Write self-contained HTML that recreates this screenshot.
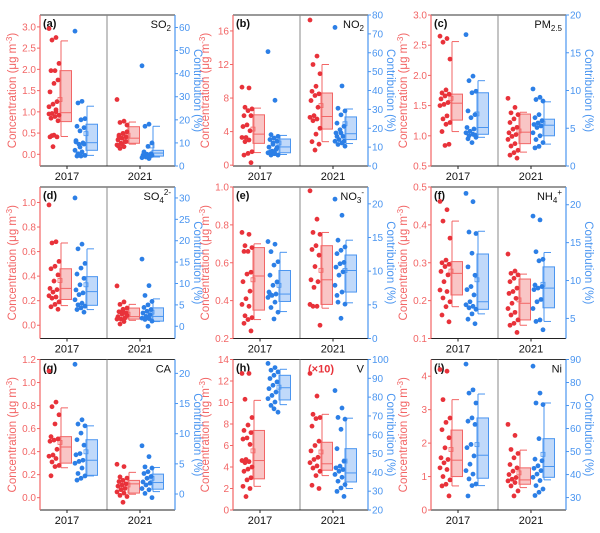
<!DOCTYPE html>
<html><head><meta charset="utf-8">
<style>
body{margin:0;background:#fff;}
svg{display:block;font-family:"Liberation Sans",Arial,sans-serif;}
</style></head>
<body>
<svg id="chart" width="600" height="533" viewBox="0 0 600 533" xmlns="http://www.w3.org/2000/svg"></svg>
<script>
// ---------- DATA ----------
const panelIds = ["a","b","c","d","e","f","g","h","i"];
const speciesNames = ["SO2","NO2","PM2.5","SO42-","NO3-","NH4+","CA","V","Ni"];
const categories = ["2017","2021"];
const leftDomains = [[-0.275,3.28],[-0.1,17.9],[0.5,3.0],[-0.108,1.126],[0.2,1.0],[0.1,0.5],[-0.107,1.2],[0,14],[0,4.5]];
const rightDomains = [[0,65.4],[0,80],[0,20],[-2.86,32.56],[0,22.5],[2.35,22.34],[-2.65,22.3],[20,100],[24.6,90]];
const leftTicks = [
 ["0.0","0.5","1.0","1.5","2.0","2.5","3.0"],["0","4","8","12","16"],["0.5","1.0","1.5","2.0","2.5","3.0"],
 ["0.0","0.2","0.4","0.6","0.8","1.0"],["0.2","0.4","0.6","0.8","1.0"],["0.1","0.2","0.3","0.4","0.5"],
 ["0.0","0.2","0.4","0.6","0.8","1.0","1.2"],["0","2","4","6","8","10","12","14"],["0","1","2","3","4"]];
const rightTicks = [
 ["0","10","20","30","40","50","60"],["0","10","20","30","40","50","60","70","80"],["0","5","10","15","20"],
 ["0","5","10","15","20","25","30"],["0","5","10","15","20"],["5","10","15","20"],
 ["0","5","10","15","20"],["20","30","40","50","60","70","80","90","100"],["30","40","50","60","70","80","90"]];
// concentration (red) points
const red2017 = [
 [2.96,2.75,2.69,2.14,1.97,1.97,1.75,1.67,1.47,1.24,1.18,1.12,1.0,0.96,0.92,0.89,0.85,0.79,0.45,0.41,0.41,0.18,0.95,1.05,0.44],
 [9.3,9.2,6.9,6.7,6.5,5.9,5.9,4.8,4.6,4.1,3.3,3.3,3.0,2.8,1.6,1.4,1.2,0.3],
 [2.65,2.61,2.55,2.27,1.76,1.71,1.69,1.66,1.61,1.55,1.52,1.5,1.33,1.28,1.22,1.19,1.07,0.86,0.84],
 [0.98,0.68,0.67,0.52,0.48,0.46,0.41,0.36,0.3,0.29,0.27,0.24,0.23,0.22,0.19,0.17,0.15,0.13],
 [0.76,0.75,0.69,0.68,0.66,0.66,0.55,0.54,0.5,0.45,0.41,0.38,0.37,0.32,0.31,0.3,0.28,0.24],
 [0.462,0.44,0.41,0.365,0.307,0.3,0.296,0.29,0.277,0.268,0.25,0.228,0.224,0.207,0.197,0.184,0.162,0.144],
 [1.1,0.83,0.79,0.72,0.64,0.53,0.51,0.5,0.49,0.42,0.37,0.36,0.34,0.31,0.28,0.27,0.19],
 [12.7,12.7,10.3,8.6,7.9,7.4,7.2,6.7,6.6,6.1,4.7,4.6,4.5,4.4,4.0,3.8,3.6,3.0,2.8,2.2,2.0,1.25],
 [4.2,4.15,3.3,2.75,2.62,2.4,2.16,1.86,1.56,1.51,1.41,1.26,1.21,1.0,0.9,0.77,0.72,0.42]];
const red2021 = [
 [1.29,0.78,0.75,0.69,0.49,0.45,0.41,0.38,0.34,0.3,0.26,0.22,0.18,0.14,0.53,0.49,0.41,0.3,0.24,0.2],
 [17.3,13,12,10.9,9.4,8.8,8.5,8.3,7.7,6.9,5.9,5.7,5.5,5.3,4.4,3.7,2.8,2.5,1.8],
 [1.62,1.47,1.38,1.35,1.28,1.22,1.14,1.11,1.05,1.02,0.99,0.94,0.87,0.83,0.76,0.72,0.68,0.63],
 [0.32,0.19,0.17,0.14,0.13,0.11,0.1,0.09,0.07,0.06,0.05,0.05,0.03,0.01,0.08,0.12],
 [0.98,0.83,0.76,0.75,0.69,0.67,0.64,0.58,0.51,0.5,0.47,0.38,0.37,0.37,0.27],
 [0.323,0.278,0.272,0.268,0.259,0.25,0.233,0.224,0.219,0.206,0.193,0.179,0.169,0.162,0.149,0.14,0.135,0.116],
 [0.29,0.27,0.18,0.17,0.15,0.14,0.12,0.11,0.1,0.08,0.07,0.05,0.04,0.02,0.01,-0.04],
 [12.7,10.6,8.9,8.6,8.5,7.8,6.4,6.0,5.5,4.9,4.7,4.4,4.1,3.9,3.6,3.2,2.3,2.0],
 [2.56,2.23,1.81,1.69,1.56,1.36,1.26,1.16,1.06,0.97,0.92,0.87,0.82,0.72,0.57,0.42]];
// contribution (blue) points
const blue2017 = [
 [58.4,28,27.3,20.5,20,17.2,16.6,15.2,10.4,10,9.4,6.8,6.1,5.3,4.6,4.3,4.3,9.5,8.2,11],
 [60.6,34.8,16.6,15.7,14.8,14,13.1,12.2,10,8.7,7.9,7,6.5,5.8,5.8,6.5,7.4,9.8,11.5],
 [17.4,11.9,11.3,9.9,9.7,7.3,6.8,6.4,5.1,4.9,4.6,4.4,4.2,4.0,3.8,3.1,3.6,4.1],
 [30,19.2,18.1,14.7,13.6,12.2,11.2,9.7,8.5,7.8,7.4,6.2,5.4,5.0,4.7,4.3,3.9,3.3],
 [14.4,14,12.9,11.4,10.9,9.4,8.4,7.9,6.9,6.6,6.4,6.1,5.4,4.6,3.9,2.9,6.6],
 [21.5,20.4,16.4,16.2,13.6,11.8,10.7,9.2,8.8,8.1,7.2,6.8,6.6,6.4,6.2,5.6,4.9,4.3],
 [21.5,12.3,11.6,11.3,10.1,9.0,8.1,6.7,6.5,5.6,5.4,5.1,4.3,3.4,3.0,2.6,2.3],
 [97.9,95.7,94.3,93.4,91.6,89.9,88.1,86.3,84.5,82.7,80.9,79.2,77.4,75.6,72,73.8],
 [88,76.8,75.4,71.1,64.6,63.2,61.8,53.1,51.7,48.1,44.5,41.7,40.2,38.1,35.9,35.2,30.7]];
const blue2021 = [
 [43.4,18.1,17.2,10,8.5,6.1,5.3,5.1,4.6,4.3,3.9,3.6,3.2,5.3,4.6,3.9,5.6],
 [73.4,42.4,30.6,29.2,27.1,22.7,21,19.2,17.5,15.7,14,13.1,12.2,11.4,10.5,17.5,15.7,13.1],
 [10.2,9.1,8.8,8.6,6.8,6.4,6.0,5.7,5.5,5.3,5.1,4.4,4.0,3.5,3.1,2.6,2.4],
 [15.7,9.5,7.2,5.8,5.0,4.4,3.9,3.5,3.1,2.7,2.3,1.9,1.8,1.6,1.2,0],
 [20.7,18.3,14.6,13.6,13.1,12.6,11.3,11.1,10.6,9.9,9.4,7.9,6.9,5.4,5.1,3.0,6.4],
 [18.5,18,13.8,12.8,12.6,9.4,9.2,9.0,8.8,7.5,7.2,6.3,4.8,4.6,3.5],
 [8,6.2,4.5,4.3,3.7,3.4,2.9,2.6,2.0,1.8,1.5,0.9,0.7,0.1,-0.6],
 [83.5,74.2,69.2,68.3,62.9,52.6,46,43.3,42.4,41.5,40.6,38.9,37.4,35.3,33.5,31.7,29.9,27.2],
 [87.1,75.4,71.1,70.4,55.6,46.7,46,43.8,42.7,41.7,40.2,38.8,37.4,35.2,33.7,32.3,30.9]];
// box stats: [whiskerLow, q1, median, q3, whiskerHigh, mean]
const boxRed2017 = [[0.42,0.77,0.98,1.97,2.67,1.29],[1.5,2.6,3.7,6.0,6.8,4.3],[1.07,1.26,1.54,1.69,2.56,1.62],[0.16,0.21,0.30,0.46,0.67,0.365],[0.30,0.35,0.53,0.68,0.70,0.51],[0.184,0.215,0.272,0.303,0.41,0.278],[0.26,0.30,0.44,0.53,0.78,0.48],[2.2,2.9,4.6,7.4,10.2,5.5],[0.72,1.0,1.49,2.39,3.3,1.81]];
const boxBlue2017 = [[4.6,6.8,10.1,18.1,25.9,14],[6.1,7,10.1,14.3,16.2,12.2],[3.8,4.2,5.1,9.7,11.3,6.9],[3.9,4.9,8.1,11.6,18.1,9.7],[4,5.5,6.6,10.1,12.8,7.9],[5.6,6.2,7.2,13.5,16.5,10.1],[3,3.1,5.6,9,11.3,7],[76,78.5,85,91.6,94.8,85.3],[35.2,38.4,48.4,64.6,75,53]];
const boxRed2021 = [[0.24,0.26,0.38,0.65,0.76,0.45],[2.8,4.3,5.8,8.6,12,7.1],[0.73,0.87,1.06,1.36,1.39,1.08],[0.04,0.05,0.07,0.14,0.17,0.09],[0.36,0.38,0.51,0.69,0.76,0.56],[0.135,0.149,0.193,0.257,0.27,0.202],[0.03,0.04,0.12,0.15,0.22,0.11],[3.2,3.7,4.3,6.3,8.9,5.4],[0.67,0.77,0.9,1.26,1.79,1.11]];
const boxBlue2021 = [[3.9,4.3,5.6,6.8,17.2,8.7],[11.9,14,17.1,26,30.2,22.4],[2.9,4,5.4,6.2,8.5,5.7],[1.1,1.2,2.3,4.3,6.4,3.3],[5.3,6.9,10.1,12.4,14.6,10.1],[4.6,6.4,9,11.8,13.7,9.5],[0.4,0.8,1.9,3.3,4.4,2.6],[31.4,34.9,39.7,52.6,68.8,46],[37.7,38.8,43.5,55.6,71.1,48.8]];

// ---------- LAYOUT ----------
const colL = [40,233,431], rowT = [15,187,359.5], rowB = [166,338.5,510];
const W = 135;
const RED="#e8323a", REDL="#f26565", REDF="rgba(244,150,150,0.55)";
const BLUE="#2c7fe6", BLUEL="#4a95f0", BLUEF="rgba(140,185,245,0.55)";
const NS="http://www.w3.org/2000/svg";
const svg=document.getElementById('chart');
function mk(tag, attrs, parent){const e=document.createElementNS(NS,tag);for(const k in attrs)e.setAttribute(k,attrs[k]);(parent||svg).appendChild(e);return e;}
function lin(d, r){return v=> r[0]+(v-d[0])/(d[1]-d[0])*(r[1]-r[0]);}

panelIds.forEach((pid,p)=>{
  const L=colL[p%3], T=rowT[Math.floor(p/3)], B=rowB[Math.floor(p/3)], R=L+W;
  const g=mk('g',{});
  
  
  const yl=lin(leftDomains[p],[B,T]), yr=lin(rightDomains[p],[B,T]);
  const fr=mk('line',{x1:L,y1:T,x2:R,y2:T,stroke:'#333','stroke-width':1},g);
  
  
  const dv=mk('line',{x1:L+67,y1:T,x2:L+67,y2:B,stroke:'#888','stroke-width':1},g);
  
  
  const bx=mk('line',{x1:L,y1:B,x2:R,y2:B,stroke:'#222','stroke-width':1},g);
  
  
  const la=mk('line',{x1:L,y1:T,x2:L,y2:B,stroke:REDL,'stroke-width':1.2},g);
  
  
  const ra=mk('line',{x1:R,y1:T,x2:R,y2:B,stroke:BLUEL,'stroke-width':1.2},g);
  
  
  [27,100].forEach((dx,ci)=>{
    mk('line',{x1:L+dx,y1:B,x2:L+dx,y2:B+3,stroke:'#222'},g);
    const t=mk('text',{x:L+dx,y:B+14,'font-size':11,'text-anchor':'middle',fill:'#111'},g);
    t.textContent=categories[ci];
    
    
  });
  leftTicks[p].forEach(s=>{
    const y=yl(parseFloat(s));
    mk('line',{x1:L-3,y1:y,x2:L,y2:y,stroke:REDL},g);
    const t=mk('text',{x:L-4,y:y+3.5,'font-size':10,'text-anchor':'end',fill:REDL},g);
    t.textContent=s;
    
    
  });
  rightTicks[p].forEach(s=>{
    const y=yr(parseFloat(s));
    mk('line',{x1:R,y1:y,x2:R+3,y2:y,stroke:BLUEL},g);
    const t=mk('text',{x:R+4,y:y+3.5,'font-size':10,'text-anchor':'start',fill:BLUEL},g);
    t.textContent=s;
    
    
  });
  const cy=(T+B)/2;
  const unit=(p>=7)?'ng':'μg';
  const lt=mk('text',{x:0,y:0,'font-size':11.5,'text-anchor':'middle',fill:REDL,transform:`translate(${L-24},${cy}) rotate(-90)`},g);
  lt.innerHTML=`Concentration (${unit} m<tspan dy="-4" font-size="8">-3</tspan><tspan dy="4">)</tspan>`;
  
  
  const rt=mk('text',{x:0,y:0,'font-size':11.5,'text-anchor':'middle',fill:BLUEL,transform:`translate(${R+19},${cy}) rotate(90)`},g);
  rt.textContent='Contribution (%)';
  
  
  const pl=mk('text',{x:L+3,y:T+12,'font-size':11,'font-weight':'bold',fill:'#111'},g);
  pl.textContent='('+pid+')';
  
  
  const sl=mk('text',{x:R-4,y:T+13,'font-size':11,'text-anchor':'end',fill:'#111'},g);
  const sp={"SO2":'SO<tspan dy="3" font-size="8">2</tspan>',"NO2":'NO<tspan dy="3" font-size="8">2</tspan>',
    "PM2.5":'PM<tspan dy="3" font-size="8">2.5</tspan>',"SO42-":'SO<tspan dy="3" font-size="8">4</tspan><tspan dy="-8" font-size="8">2-</tspan><tspan dy="5"> </tspan>',
    "NO3-":'NO<tspan dy="3" font-size="8">3</tspan><tspan dy="-8" font-size="8">-</tspan><tspan dy="5"> </tspan>',
    "NH4+":'NH<tspan dy="3" font-size="8">4</tspan><tspan dy="-8" font-size="8">+</tspan><tspan dy="5"> </tspan>',
    "CA":'CA',"V":'V',"Ni":'Ni'};
  sl.innerHTML=sp[speciesNames[p]];
  
  
  if(p===7){
    const x10=mk('text',{x:L+88,y:T+13,'font-size':11,'font-weight':'bold','text-anchor':'middle',fill:RED},g);
    x10.textContent='(×10)';
    
    
  }
  const groups=[
    {pts:red2017[p],box:boxRed2017[p],px:L+9,bx:L+20,y:yl,c:RED,f:REDF,s:REDL,n:'red-2017'},
    {pts:blue2017[p],box:boxBlue2017[p],px:L+35,bx:L+46,y:yr,c:BLUE,f:BLUEF,s:BLUEL,n:'blue-2017'},
    {pts:red2021[p],box:boxRed2021[p],px:L+77,bx:L+88,y:yl,c:RED,f:REDF,s:REDL,n:'red-2021'},
    {pts:blue2021[p],box:boxBlue2021[p],px:L+102,bx:L+112,y:yr,c:BLUE,f:BLUEF,s:BLUEL,n:'blue-2021'}];
  groups.forEach(G=>{
    const [wl,q1,md,q3,wh,mn]=G.box, bw=11.5;
    const bg=mk('g',{},g);
    
    
    mk('line',{x1:G.bx+1,y1:G.y(wl),x2:G.bx+1,y2:G.y(wh),stroke:G.s,'stroke-width':1},bg);
    mk('line',{x1:G.bx+1,y1:G.y(wh),x2:G.bx+8,y2:G.y(wh),stroke:G.s,'stroke-width':1},bg);
    mk('line',{x1:G.bx+1,y1:G.y(wl),x2:G.bx+8,y2:G.y(wl),stroke:G.s,'stroke-width':1},bg);
    mk('rect',{x:G.bx,y:G.y(q3),width:bw,height:G.y(q1)-G.y(q3),fill:G.f,stroke:G.s,'stroke-width':1},bg);
    mk('line',{x1:G.bx,y1:G.y(md),x2:G.bx+bw,y2:G.y(md),stroke:G.s,'stroke-width':1},bg);
    mk('rect',{x:G.bx-2,y:G.y(mn)-2,width:4,height:4,fill:'none',stroke:G.s,'stroke-width':0.8},bg);
    G.pts.forEach((v,i)=>{
      const c=mk('circle',{cx:G.px+((i*7)%11)/10*10,cy:G.y(v),r:2.4,fill:G.c},g);
      
      
    });
  });
});
</script>
</body></html>
